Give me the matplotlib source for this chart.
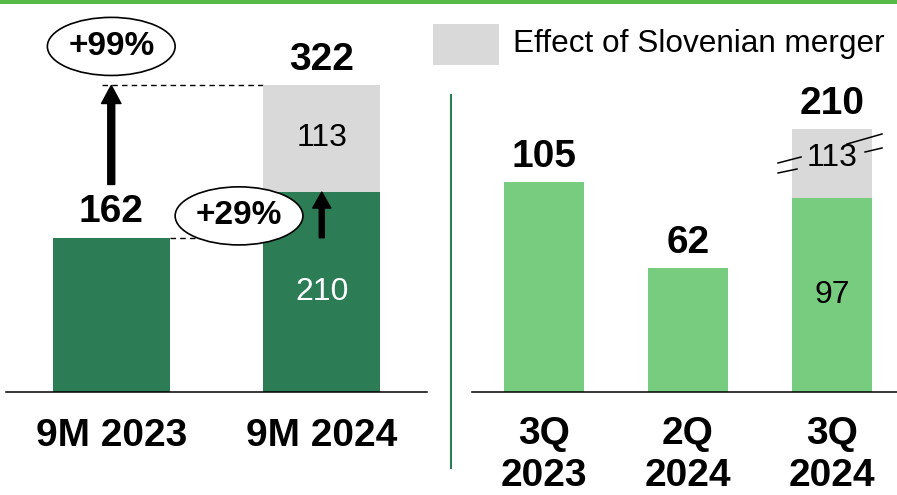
import matplotlib.pyplot as plt
from matplotlib.patches import Ellipse, Rectangle
from matplotlib.lines import Line2D

plt.rcParams['font.family'] = ['Liberation Sans', 'DejaVu Sans']

# ---------------------------------------------------
# DATOS
# ---------------------------------------------------
periodos_9m = ["9M 2023", "9M 2024"]
base_9m = [162, 210]
fusion_9m = [0, 113]
total_9m = [162, 322]
crecimiento_9m = ["+99%", "+29%"]

periodos_q = ["3Q\n2023", "2Q\n2024", "3Q\n2024"]
base_q = [105, 62, 97]
fusion_q = [0, 0, 113]
total_q = [105, 62, 210]

leyenda = "Effect of Slovenian merger"

VERDE_OSCURO = "#2C7D56"
VERDE_CLARO = "#77CC80"
GRIS = "#D9D9D9"
VERDE_LINEA = "#57B947"
CORTE = 34.5  # altura dibujada del segmento gris cortado (3Q 2024)

fig = plt.figure(figsize=(8.97, 4.95), dpi=100)

# linea verde superior
fig.add_artist(Rectangle((0, 1 - 3.5 / 495), 1, 3.5 / 495, transform=fig.transFigure,
                         color=VERDE_LINEA, lw=0))

# ---------------------------------------------------
# PANEL IZQUIERDO (9M)
# ---------------------------------------------------
ax1 = fig.add_axes([6 / 897, 103 / 495, 421 / 897, 392 / 495])
x1 = list(range(len(periodos_9m)))
ax1.bar(x1, base_9m, width=0.555, color=VERDE_OSCURO, zorder=2)
ax1.bar(x1, fusion_9m, bottom=base_9m, width=0.555, color=GRIS, zorder=2)
ax1.set_xlim(-0.5, 1.5)
ax1.set_ylim(0, 392 / 0.952)

for i in x1:
    ax1.annotate(str(total_9m[i]), (i, total_9m[i]), xytext=(0, 11), textcoords="offset points",
                 ha="center", va="baseline", fontsize=28, fontweight="bold")
ax1.text(1, base_9m[1] / 2, str(base_9m[1]), ha="center", va="center", fontsize=23, color="white", zorder=3)
ax1.text(1, base_9m[1] + fusion_9m[1] / 2, str(fusion_9m[1]), ha="center", va="center", fontsize=23, zorder=3)

# lineas punteadas
ax1.plot([-0.043, 1 - 0.2775], [total_9m[1], total_9m[1]], ls=(0, (4, 3)), lw=1, color="black", zorder=1)
ax1.plot([0.2775, 1.03], [total_9m[0], total_9m[0]], ls=(0, (4, 3)), lw=1, color="black", zorder=1)

# flechas
ax1.annotate("", xy=(0, total_9m[1]), xytext=(0, total_9m[0] + 56),
             arrowprops=dict(facecolor="black", edgecolor="black", width=5, headwidth=14,
                             headlength=13, shrink=0), zorder=4)
ax1.annotate("", xy=(1, base_9m[1]), xytext=(1, base_9m[0]),
             arrowprops=dict(facecolor="black", edgecolor="black", width=3.6, headwidth=13,
                             headlength=11.5, shrink=0), zorder=4)

# elipses
for (cx, cy), txt in zip([(0, 363), (0.607, 185)], crecimiento_9m):
    ax1.add_patch(Ellipse((cx, cy), 0.607, 61, facecolor="white", edgecolor="black",
                          lw=1.2, zorder=5, clip_on=False))
    ax1.text(cx, cy, txt, ha="center", va="center", fontsize=24, fontweight="bold", zorder=6)

ax1.set_xticks(x1)
ax1.set_xticklabels(periodos_9m, fontsize=28, fontweight="bold")

# ---------------------------------------------------
# PANEL DERECHO (trimestres)
# ---------------------------------------------------
ax2 = fig.add_axes([472 / 897, 103 / 495, 425 / 897, 392 / 495])
x2 = list(range(len(periodos_q)))
ax2.bar(x2, base_q, width=0.556, color=VERDE_CLARO, zorder=2)
alto_gris = [CORTE if v else 0 for v in fusion_q]
ax2.bar(x2, alto_gris, bottom=base_q, width=0.556, color=GRIS, zorder=2)
ax2.set_xlim(-0.5, 2.451)
ax2.set_ylim(0, 196)

for i in x2:
    tope = base_q[i] + alto_gris[i]
    ax2.annotate(str(total_q[i]), (i, tope), xytext=(0, 10.5), textcoords="offset points",
                 ha="center", va="baseline", fontsize=28, fontweight="bold")
ax2.text(2, base_q[2] / 2, str(base_q[2]), ha="center", va="center", fontsize=23, zorder=3)
ax2.text(2, base_q[2] + CORTE / 2 + 3, str(fusion_q[2]), ha="center", va="center", fontsize=23, zorder=4)

# marcas de corte
for xs, ys in [([1.625, 1.785], [114.5, 117.5]), ([1.625, 1.757], [109.5, 111.5]),
               ([2.104, 2.347], [124, 129]), ([2.229, 2.347], [120, 122])]:
    ax2.plot(xs, ys, color="black", lw=1.1, zorder=3, clip_on=False)

ax2.set_xticks(x2)
ax2.set_xticklabels(periodos_q, fontsize=28, fontweight="bold", linespacing=1.22)

for ax in (ax1, ax2):
    for s in ("top", "left", "right"):
        ax.spines[s].set_visible(False)
    ax.spines["bottom"].set_linewidth(1.1)
    ax.spines["bottom"].set_zorder(3)
    ax.set_yticks([])
    ax.tick_params(axis="x", length=0, pad=19)
    ax.patch.set_visible(False)
ax2.tick_params(axis="x", pad=17)

# separador vertical
fig.add_artist(Line2D([451 / 897, 451 / 897], [1 - 95 / 495, 1 - 468 / 495],
                      transform=fig.transFigure, color=VERDE_OSCURO, lw=1.5))

# leyenda
fig.add_artist(Rectangle((433 / 897, 1 - 65 / 495), 66 / 897, 41 / 495,
                         transform=fig.transFigure, color=GRIS, lw=0))
fig.text(513 / 897, 1 - 44 / 495, leyenda, ha="left", va="center", fontsize=22.7)

fig.savefig("out.png", dpi=100)
